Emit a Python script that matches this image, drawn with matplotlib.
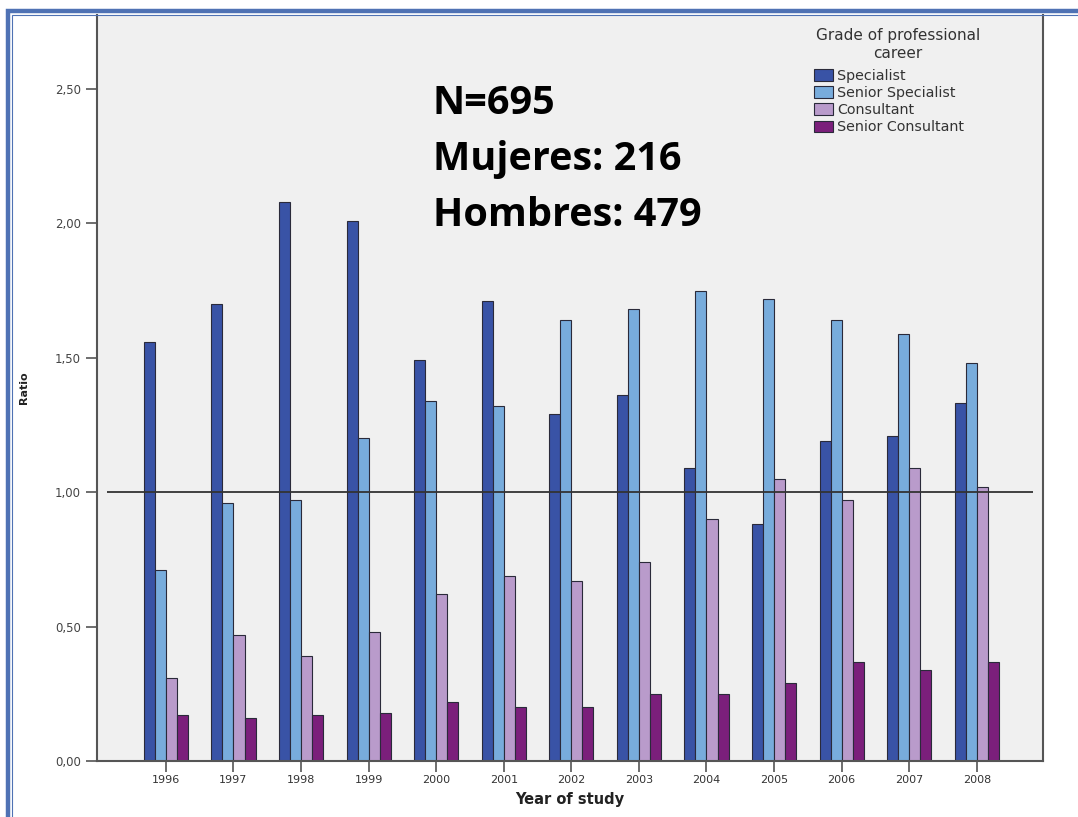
import matplotlib

matplotlib.use("Agg")
import matplotlib.pyplot as plt
import numpy as np
from matplotlib.patches import Rectangle

years = ["1996", "1997", "1998", "1999", "2000", "2001", "2002",
         "2003", "2004", "2005", "2006", "2007", "2008"]
grades = ["Specialist", "Senior Specialist", "Consultant", "Senior Consultant"]

specialist = [1.56, 1.70, 2.08, 2.01, 1.49, 1.71, 1.29, 1.36, 1.09, 0.88, 1.19, 1.21, 1.33]
senior_specialist = [0.71, 0.96, 0.97, 1.20, 1.34, 1.32, 1.64, 1.68, 1.75, 1.72, 1.64, 1.59, 1.48]
consultant = [0.31, 0.47, 0.39, 0.48, 0.62, 0.69, 0.67, 0.74, 0.90, 1.05, 0.97, 1.09, 1.02]
senior_consultant = [0.17, 0.16, 0.17, 0.18, 0.22, 0.20, 0.20, 0.25, 0.25, 0.29, 0.37, 0.34, 0.37]

yticks = [0.0, 0.5, 1.0, 1.5, 2.0, 2.5]
ytick_labels = ["0,00", "0,50", "1,00", "1,50", "2,00", "2,50"]

colors = ["#3953a6", "#78acdc", "#b99bcb", "#7b1f7b"]
series = [specialist, senior_specialist, consultant, senior_consultant]

W, H = 1078, 817
fig = plt.figure(figsize=(W / 100, H / 100), dpi=100)
fig.patch.set_facecolor("white")

ax = fig.add_axes([97 / W, 1 - 761 / H, (1043 - 97) / W, (761 - 15) / H])
ax.set_facecolor("#f0f0f0")

x = np.arange(len(years))
bar_w = 0.163
for i, (vals, col, name) in enumerate(zip(series, colors, grades)):
    ax.bar(x + (i - 1.5) * bar_w, vals, width=bar_w, color=col,
           edgecolor="#2a2a3a", linewidth=0.8, label=name, zorder=2)

ax.hlines(1.0, -0.87, 12.83, color="#333333", linewidth=1.3, zorder=3)

ax.set_xlim(-1.02, 12.98)
ax.set_ylim(0, 2.775)
ax.set_xticks(x)
ax.set_xticklabels(years, fontsize=8, color="#333333")
ax.set_yticks(yticks)
ax.set_yticklabels(ytick_labels, fontsize=8.5, color="#444444")
ax.tick_params(axis="both", direction="out", length=8, width=1.2, color="#555555")
ax.tick_params(axis="x", pad=2)

for side in ["left", "bottom", "right"]:
    ax.spines[side].set_color("#555555")
    ax.spines[side].set_linewidth(1.5)
ax.spines["top"].set_visible(False)

ax.set_xlabel("Year of study", fontsize=10.5, fontweight="bold", color="#222222", labelpad=5)
ax.set_ylabel("Ratio", fontsize=8, fontweight="bold", color="#222222", labelpad=19)

# legend title drawn separately so it can be centred over the entries
fig.text(898 / W, 1 - 28 / H, "Grade of professional\ncareer", fontsize=11,
         color="#333333", ha="center", va="top", multialignment="center",
         linespacing=1.25)
leg = fig.legend(loc="upper left", bbox_to_anchor=(811 / W, 1 - 66 / H),
                 frameon=False, fontsize=10.3, labelspacing=0.22, handlelength=1.35,
                 handleheight=0.85, handletextpad=0.3, borderpad=0.2, borderaxespad=0)
for t in leg.get_texts():
    t.set_color("#333333")

fig.text(433 / W, 1 - 84 / H, "N=695\nMujeres: 216\nHombres: 479",
         fontsize=28.5, fontweight="bold", family=["Open Sans", "DejaVu Sans"],
         color="black", va="top", ha="left", linespacing=1.57)

# blue frame around the slide picture
frame_col = "#4f72b4"
fig.patches.append(Rectangle((8 / W, -0.1), 1.2, 1.1 - 10.5 / H,
                             transform=fig.transFigure, fill=False,
                             edgecolor=frame_col, linewidth=3.2, zorder=10))
fig.patches.append(Rectangle((12.5 / W, -0.1), 1.2, 1.1 - 15 / H,
                             transform=fig.transFigure, fill=False,
                             edgecolor=frame_col, linewidth=0.8, zorder=10))

fig.savefig("out.png", dpi=100)
